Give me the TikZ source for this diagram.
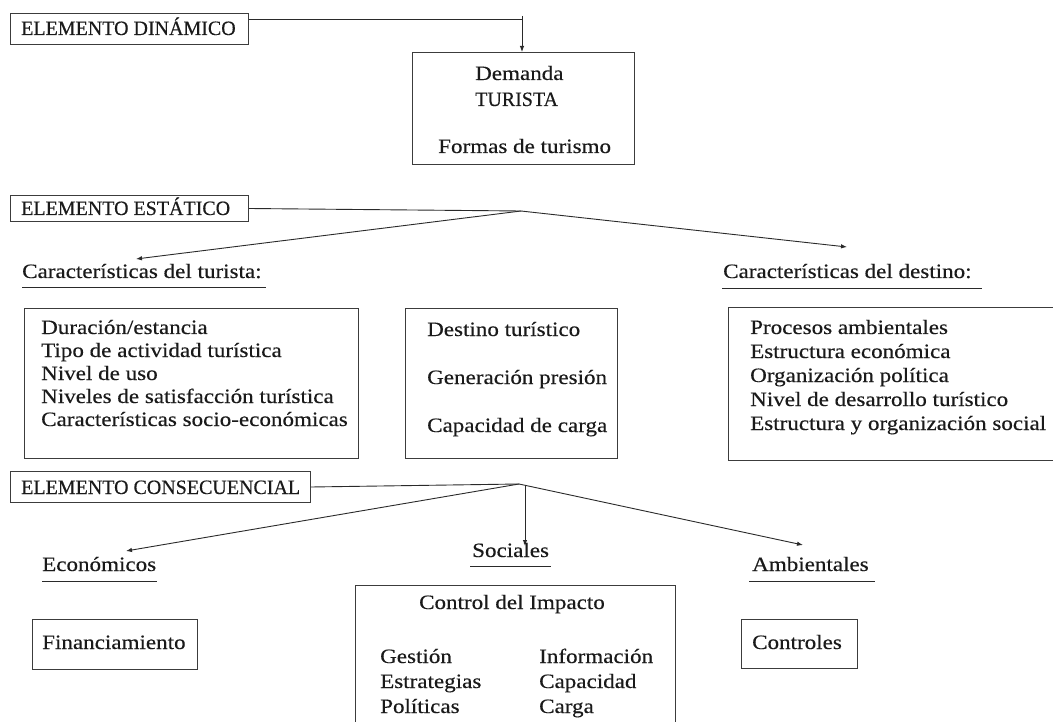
\documentclass[tikz,border=0pt]{standalone}
\usepackage{fontspec}
\setmainfont{Liberation Serif}[FakeStretch=1.13,FakeBold=0.3]
\newfontfamily\capsf{Liberation Serif}[FakeStretch=0.98,FakeBold=0.3]
\usetikzlibrary{arrows.meta}
\definecolor{txtc}{HTML}{1A1A1A}
\definecolor{boxc}{HTML}{3C3C3C}
\definecolor{linec}{HTML}{2A2A2A}
\begin{document}
\begin{tikzpicture}[x=1pt,y=-1pt,
  box/.style={draw=boxc, line width=1pt, inner sep=0pt, anchor=north west},
  txt/.style={anchor=base west, inner sep=0pt, text=txtc, font=\fontsize{20.4}{24}\selectfont},
  ctxt/.style={anchor=base west, inner sep=0pt, text=txtc, font=\capsf\fontsize{20.4}{24}\selectfont},
  conn/.style={draw=linec, line width=0.9pt},
  arr/.style={conn, -{Latex[length=6pt,width=4.5pt]}},
  uline/.style={draw=linec, line width=1pt}]
\useasboundingbox[fill=white] (0,0) rectangle (1053,722);

% ---------- ELEMENTO DINAMICO ----------
\node[box, minimum width=238pt, minimum height=31pt] (dinbox) at (10,13) {};
\node[ctxt] (dintxt) at (21,35) {ELEMENTO DINÁMICO};
\node[box, minimum width=222pt, minimum height=112pt] (dembox) at (412,52) {};
\node[txt] (demanda) at (475,80) {Demanda};
\node[ctxt] (turista) at (475,106) {TURISTA};
\node[txt] (formas) at (438,153) {Formas de turismo};
\coordinate (j1) at (522,19);
\coordinate (j1top) at (522,16);
\draw[conn] (dinbox.east |- j1) -- (j1);
\draw[arr] (j1top) -- (dembox.north -| j1top);

% ---------- ELEMENTO ESTATICO ----------
\node[box, minimum width=238pt, minimum height=26pt] (estbox) at (10,195) {};
\node[ctxt] (esttxt) at (21,215) {ELEMENTO ESTÁTICO};
\coordinate (j2) at (521,211);
\coordinate (turtip) at (136,259);
\coordinate (destip) at (847,247);
\draw[conn] (estbox.east) -- (j2);
\draw[arr] (j2) -- (turtip);
\draw[arr] (j2) -- (destip);

\node[txt] (cturista) at (22,278) {Características del turista:};
\draw[uline] ([yshift=-10pt]cturista.base west) -- ([xshift=4pt,yshift=-10pt]cturista.base east);
\node[txt] (cdestino) at (723,278) {Características del destino:};
\draw[uline] ([xshift=-1pt,yshift=-11pt]cdestino.base west) -- ([xshift=10pt,yshift=-11pt]cdestino.base east);

% left box
\node[box, minimum width=334pt, minimum height=150pt] (turbox) at (24,308) {};
\node[txt] (t1) at (41,334) {Duración/estancia};
\node[txt] (t2) at (41,357) {Tipo de actividad turística};
\node[txt] (t3) at (41,380) {Nivel de uso};
\node[txt] (t4) at (41,403) {Niveles de satisfacción turística};
\node[txt] (t5) at (41,426) {Características socio-económicas};

% middle box
\node[box, minimum width=212pt, minimum height=150pt] (midbox) at (405,308) {};
\node[txt] (m1) at (427,336) {Destino turístico};
\node[txt] (m2) at (427,384) {Generación presión};
\node[txt] (m3) at (427,432) {Capacidad de carga};

% right box
\node[box, minimum width=340pt, minimum height=153pt] (desbox) at (728,307) {};
\node[txt] (r1) at (750,334) {Procesos ambientales};
\node[txt] (r2) at (750,358) {Estructura económica};
\node[txt] (r3) at (750,382) {Organización política};
\node[txt] (r4) at (750,406) {Nivel de desarrollo turístico};
\node[txt] (r5) at (750,430) {Estructura y organización social};

% ---------- ELEMENTO CONSECUENCIAL ----------
\node[box, minimum width=300pt, minimum height=31pt] (conbox) at (10,471) {};
\node[ctxt] (contxt) at (21,494) {ELEMENTO CONSECUENCIAL};
\coordinate (j3) at (519,484);
\coordinate (jsoc) at (525,485.5);
\coordinate (ecotip) at (126,551);
\coordinate (soctip) at (525,546);
\coordinate (ambtip) at (803,545);
\draw[conn] (conbox.east) -- (j3);
\draw[arr] (j3) -- (ecotip);
\draw[arr] (jsoc) -- (soctip);
\draw[arr] (j3) -- (ambtip);

\node[txt] (eco) at (42,571) {Económicos};
\draw[uline] ([yshift=-10pt]eco.base west) -- ([xshift=1pt,yshift=-10pt]eco.base east);
\node[txt] (soc) at (472,557) {Sociales};
\draw[uline] ([xshift=-2pt,yshift=-9pt]soc.base west) -- ([xshift=2pt,yshift=-9pt]soc.base east);
\node[txt] (amb) at (752,571) {Ambientales};
\draw[uline] ([xshift=-3pt,yshift=-10pt]amb.base west) -- ([xshift=6pt,yshift=-10pt]amb.base east);

\node[box, minimum width=165pt, minimum height=50pt] (finbox) at (32,619) {};
\node[txt] (fin) at (42,649) {Financiamiento};
\node[box, minimum width=116pt, minimum height=49pt] (ctlbox) at (741,619) {};
\node[txt] (ctl) at (752,649) {Controles};

\node[box, minimum width=320pt, minimum height=160pt] (impbox) at (355,585) {};
\node[txt, anchor=base] (imp) at (512,609) {Control del Impacto};
\node[txt] (i1) at (380,663) {Gestión};
\node[txt] (i2) at (380,688) {Estrategias};
\node[txt] (i3) at (380,713) {Políticas};
\node[txt] (i4) at (539,663) {Información};
\node[txt] (i5) at (539,688) {Capacidad};
\node[txt] (i6) at (539,713) {Carga};
\end{tikzpicture}
\end{document}
